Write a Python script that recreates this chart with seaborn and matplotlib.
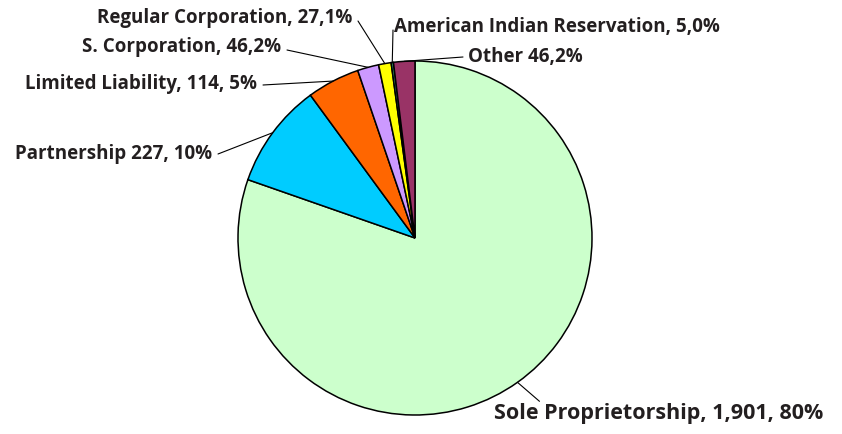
import numpy as np
import matplotlib
matplotlib.use("Agg")
import matplotlib.pyplot as plt
import seaborn as sns

# Business organization types: counts and their shares
categories = ["Sole Proprietorship", "Partnership", "Limited Liability",
              "S. Corporation", "Regular Corporation",
              "American Indian Reservation", "Other"]
counts = [1901, 227, 114, 46, 27, 5, 46]
labels = ["Sole Proprietorship, 1,901, 80%",
          "Partnership 227, 10%",
          "Limited Liability, 114, 5%",
          "S. Corporation, 46,2%",
          "Regular Corporation, 27,1%",
          "American Indian Reservation, 5,0%",
          "Other 46,2%"]
colors = ["#ccffcc", "#00ccff", "#ff6600", "#cc99ff", "#ffff00",
          "#339966", "#993366"]

sns.set_theme(style="white")
plt.rcParams["font.family"] = ["Open Sans", "DejaVu Sans"]

W, H = 842, 434
fig = plt.figure(figsize=(W / 100, H / 100), dpi=100)
ax = fig.add_axes([0, 0, 1, 1])

# pie laid out in pixel units (y measured upward)
cx, cy, r = 415, H - 238, 177
wedges, _ = ax.pie(counts, colors=colors, startangle=90, counterclock=False,
                   center=(cx, cy), radius=r, frame=True,
                   wedgeprops=dict(edgecolor="black", linewidth=1.1))
ax.set_xlim(0, W)
ax.set_ylim(0, H)
ax.set_aspect("equal")
ax.axis("off")

# label placement: (x, y from top, horizontal alignment, font size)
label_pos = [
    (494, 413, "left", 15.5),
    (212, 154, "right", 13.5),
    (257, 84, "right", 13.5),
    (281, 47, "right", 13.5),
    (352, 18, "right", 13.5),
    (394, 27, "left", 13.5),
    (468, 57, "left", 13.5),
]

txt_color = "#231f20"
for w, lab, (tx, ty, ha, fs) in zip(wedges, labels, label_pos):
    mid = np.deg2rad((w.theta1 + w.theta2) / 2)
    px = cx + r * np.cos(mid)
    py = cy + r * np.sin(mid)
    ty = H - ty
    ax.text(tx, ty, lab, ha=ha, va="center", fontsize=fs,
            fontweight="bold", color=txt_color)
    sx = tx + 6 if ha == "right" else tx - 5
    sy = ty - 3 if ha == "right" else ty
    if lab.startswith("Limited"):
        sy = ty - 1
    if lab.startswith("Partnership"):
        sy = ty
    if lab.startswith("Sole"):
        sx, sy = px + 22, py - 19
    if lab.startswith("American"):
        sx, sy = tx - 1, ty - 3
    ax.plot([sx, px], [sy, py], color="black", linewidth=0.8)

fig.savefig("out.png", dpi=100, facecolor="white")
